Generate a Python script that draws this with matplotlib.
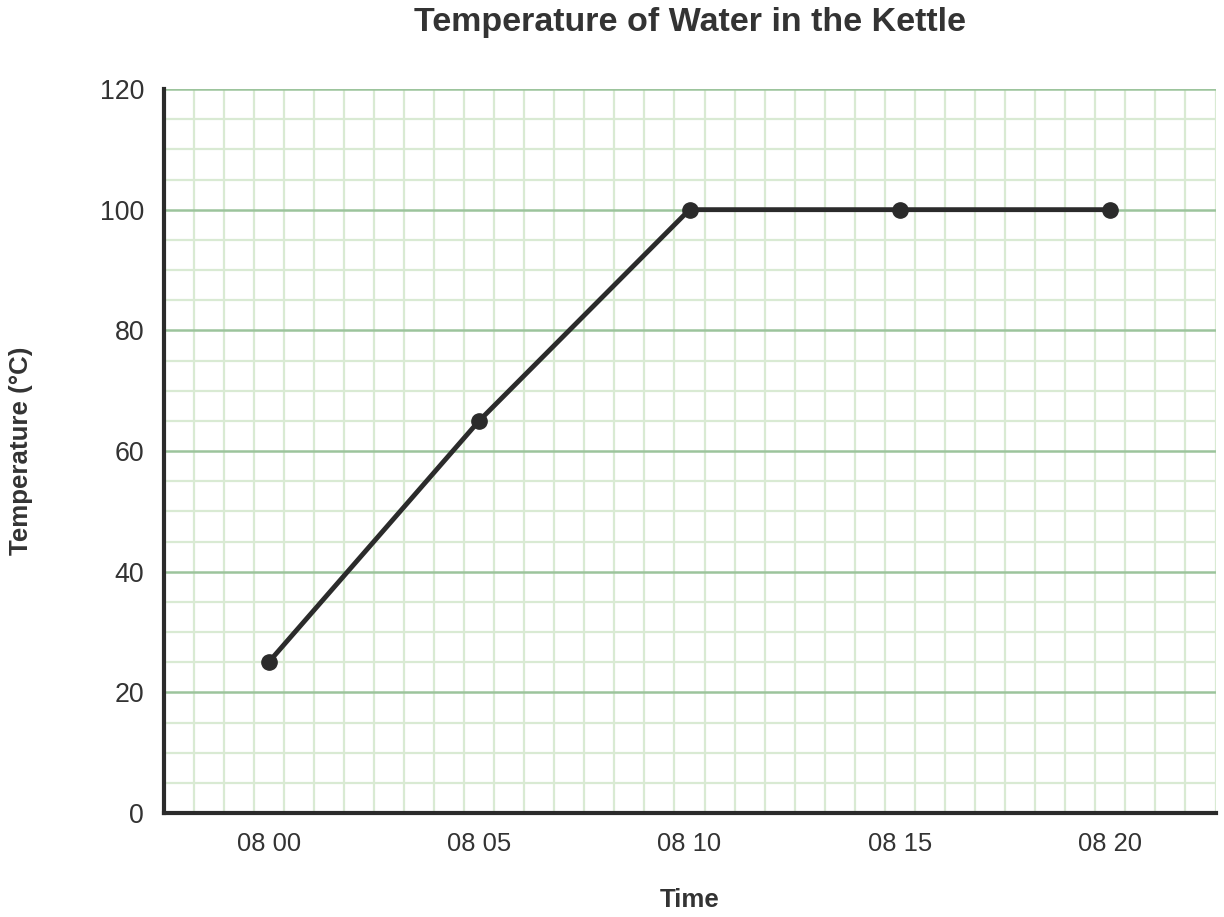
import numpy as np
import matplotlib
matplotlib.use('Agg')
import matplotlib.pyplot as plt

plt.rcParams['font.family'] = ['Liberation Sans', 'DejaVu Sans']

# minutes after 08:00
minutes = [0, 5, 10, 15, 20]
temps = [25, 65, 100, 100, 100]
tick_pos = [0, 5, 10, 15, 20]
tick_labels = ['08 00', '08 05', '08 10', '08 15', '08 20']
y_ticks = [0, 20, 40, 60, 80, 100, 120]

text_col = '#333333'
ink = '#2b2b2b'

fig = plt.figure(figsize=(12.24, 9.17), dpi=100)
ax = fig.add_axes([163.5/1224, 1 - 813/917, (1215.5-163.5)/1224, (813-89)/917])

xmin, xmax = -2.5, 22.5
ax.set_xlim(xmin, xmax)
ax.set_ylim(0, 120)

# graph-paper grid
ax.set_xticks(np.linspace(xmin, xmax, 36), minor=True)
ax.set_yticks(np.arange(0, 121, 5), minor=True)
ax.grid(which='minor', color='#d9ead3', linewidth=1.6)
ax.set_yticks(y_ticks)
ax.set_xticks(tick_pos)
ax.set_xticklabels(tick_labels)
ax.grid(which='major', axis='y', color='#9cc49c', linewidth=1.8)
ax.grid(which='major', axis='x', visible=False)
ax.set_axisbelow(True)

ax.plot(minutes, temps, color=ink, linewidth=3.5, marker='o', markersize=11,
        solid_capstyle='round', zorder=3)

for s in ['top', 'right']:
    ax.spines[s].set_visible(False)
for s in ['left', 'bottom']:
    ax.spines[s].set_color(ink)
    ax.spines[s].set_linewidth(3)

ax.tick_params(which='both', length=0)
ax.tick_params(axis='y', labelsize=19.3, pad=14, labelcolor=text_col)
ax.tick_params(axis='x', labelsize=18.4, pad=14, labelcolor=text_col)

ax.set_title('Temperature of Water in the Kettle', fontsize=24.5, fontweight='bold',
             color=text_col, pad=0, y=1 + (89 - 22) / 724, va='center')
ax.set_xlabel('Time', fontsize=18.6, fontweight='bold', color=text_col)
ax.xaxis.set_label_coords(0.5, -(900 - 813) / 724)
ax.xaxis.label.set_va('center')
ax.set_ylabel('Temperature (°C)', fontsize=18.6, fontweight='bold', color=text_col)
ax.yaxis.set_label_coords(-(163.5 - 21) / 1052, 0.5)
ax.yaxis.label.set_va('center')

fig.savefig('out.png', dpi=100)
